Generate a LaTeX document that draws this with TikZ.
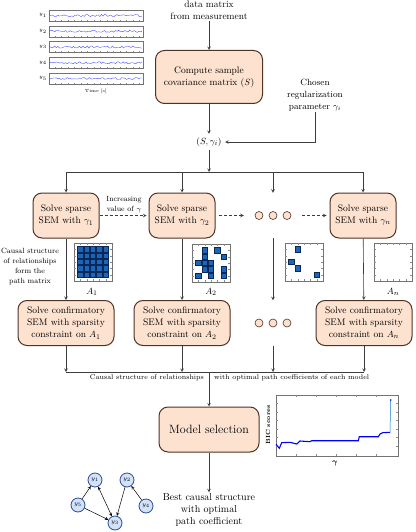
\documentclass[tikz,border=0pt]{standalone}
\usepackage{fontspec}
\usepackage{amsmath}
\usepackage{amssymb}
\usepackage{tikz}
\usetikzlibrary{calc}

\definecolor{boxfill}{RGB}{253,226,208}
\definecolor{boxdraw}{RGB}{80,50,38}
\definecolor{cellfill}{RGB}{28,102,186}
\definecolor{celldraw}{RGB}{12,38,86}
\definecolor{varfill}{RGB}{212,226,249}
\definecolor{vardraw}{RGB}{38,78,150}
\definecolor{linkgray}{RGB}{60,60,60}

\tikzset{
  proc/.style={draw=boxdraw, fill=boxfill, line width=1pt, rounded corners=9pt, align=center, inner sep=2pt},
  sparse/.style={minimum width=66pt, minimum height=45pt},
  confirm/.style={minimum width=96pt, minimum height=45pt},
  dotrow/.style={minimum width=52pt, minimum height=45pt},
  note/.style={align=center, inner sep=1pt},
  smallnote/.style={align=center, inner sep=1pt, font=\fontsize{7.5}{10}\selectfont},
  tinynote/.style={inner sep=1pt, font=\fontsize{7}{8}\selectfont},
  flow/.style={->, draw=linkgray, line width=0.6pt},
  link/.style={draw=linkgray, line width=0.6pt},
  dot/.style={draw=boxdraw, fill=boxfill, line width=0.6pt},
  cell/.style={draw=celldraw, fill=cellfill, line width=0.4pt},
  axisframe/.style={draw=black!55, line width=0.3pt},
  axistick/.style={draw=black!45, line width=0.25pt},
  var/.style={circle, draw=vardraw, fill=varfill, line width=0.8pt, minimum size=14pt, inner sep=0pt, font=\fontsize{6.5}{7}\selectfont},
  matrixgrid/.style={x=6.33pt, y=-6.33pt}
}

% frame of a 5 x 5 path matrix plot
\newcommand{\pathframe}{%
  \draw[axisframe] (0,0) rectangle (6,6);
  \foreach \k in {1,...,5}
    \draw[axistick] (\k,0) -- (\k,0.25) (\k,6) -- (\k,5.75) (0,\k) -- (0.25,\k) (6,\k) -- (5.75,\k);}
\newcommand{\pathcell}[2]{\draw[cell] (#1-0.42,#2-0.42) rectangle (#1+0.42,#2+0.42)}

\begin{document}
\begin{tikzpicture}[x=1pt, y=-1pt, >=stealth, font=\fontsize{9.5}{12}\selectfont]
  \useasboundingbox (0,0) rectangle (415,532);

  % Measured signals
  \pgfmathsetseed{7}
  \foreach \i in {1,...,5} {
    \pgfmathsetmacro{\ytop}{10+(\i-1)*15.75}
    \draw[axisframe] (49,\ytop) rectangle (143,\ytop+11);
    \foreach \t in {55,61.5,...,140} \draw[axistick] (\t,\ytop+11) -- (\t,\ytop+10);
    \draw[blue!75, line width=0.35pt] plot[domain=50:142, samples=60] (\x,{\ytop+5.5+1.1*rand});
    \node[font=\fontsize{4.5}{5}\selectfont] (sig\i) at (43,\ytop+5.5) {$y_{\i}$};
  }
  \node[font=\fontsize{4.5}{5}\selectfont] (time) at (96,91) {Time [s]};

  % Covariance and chosen parameter
  \node[note] (data) at (209,10) {data matrix\\from measurement};
  \node[proc, minimum width=107pt, minimum height=53pt] (cov) at (209,77) {Compute sample\\covariance matrix ($S$)};
  \node (sg) at (209,142) {$(S,\gamma_i)$};
  \node[note, font=\fontsize{9}{12}\selectfont] (chosen) at (315,95) {Chosen\\regularization\\parameter $\gamma_i$};
  \draw[flow] (data) -- (cov);
  \draw[flow] (cov) -- (sg);
  \draw[flow] (chosen) |- (sg);

  % Sparse SEM for each gamma
  \node[proc, sparse] (s1) at (66,215.5) {Solve sparse\\SEM with $\gamma_1$};
  \node[proc, sparse] (s2) at (182,215.5) {Solve sparse\\SEM with $\gamma_2$};
  \node[dotrow] (dotsA) at (273,215.5) {};
  \node[proc, sparse] (sn) at (363,215.5) {Solve sparse\\SEM with $\gamma_n$};

  \coordinate (split) at (209,172);
  \draw[flow] (sg) -- (split);
  \draw[link] (split -| s1) -- (split -| sn);
  \foreach \n in {s1,s2,dotsA,sn} \draw[flow] (split -| \n) -- (\n);

  \draw[flow, densely dashed, shorten >=2pt] (s1) -- (s2) node[midway, above=1pt, smallnote] (incr) {Increasing\\value of $\gamma$};
  \draw[flow, densely dashed, shorten <=3pt, shorten >=3pt] (s2) -- (dotsA);
  \draw[flow, densely dashed, shorten <=3pt, shorten >=3pt] (dotsA) -- (sn);

  % Confirmatory SEM
  \node[proc, confirm] (c1) at (66,323) {Solve confirmatory\\SEM with sparsity\\constraint on $A_1$};
  \node[proc, confirm] (c2) at (182,323) {Solve confirmatory\\SEM with sparsity\\constraint on $A_2$};
  \node[dotrow] (dotsB) at (273,323) {};
  \node[proc, confirm] (cn) at (364,323) {Solve confirmatory\\SEM with sparsity\\constraint on $A_n$};
  \foreach \n in {dotsA,dotsB}
    \foreach \dx in {-14,0,14}
      \draw[dot] ($(\n)+(\dx,0)$) circle (4pt);

  \draw[flow] (s1) -- (c1);
  \draw[flow] (s2) -- (c2);
  \draw[flow] (dotsA) -- (dotsB);
  \draw[flow] (sn) -- (cn);
  \node[smallnote] (structnote) at (30,267) {Causal structure\\of relationships\\form the\\path matrix};

  % Path matrices
  \begin{scope}[shift={(74,243)}, matrixgrid]
    \pathframe
    \foreach \c in {1,...,5} \foreach \r in {1,...,5} {\pathcell{\c}{\r};}
  \end{scope}
  \begin{scope}[shift={(192,244)}, matrixgrid]
    \pathframe
    \foreach \c/\r in {2/1,4/1,2/2,5/2,1/3,2/3,3/3,2/4,3/4,5/4,1/5,3/5,5/5} {\pathcell{\c}{\r};}
  \end{scope}
  \begin{scope}[shift={(285,243)}, matrixgrid]
    \pathframe
    \foreach \c/\r in {2/1,1/3,2/4,5/5} {\pathcell{\c}{\r};}
  \end{scope}
  \begin{scope}[shift={(374,243)}, matrixgrid]
    \pathframe
  \end{scope}
  \node (a1) at (92,292) {$A_1$};
  \node (a2) at (211,292) {$A_2$};
  \node (an) at (393,292) {$A_n$};

  % Collect the models
  \coordinate (merge) at (209,372);
  \foreach \n in {c1,c2,dotsB,cn} \draw[flow] (\n) -- (\n |- merge);
  \draw[link] (c1 |- merge) -- (cn |- merge);
  \node[tinynote, anchor=east] (causal) at (205,378) {Causal structure of relationships};
  \node[tinynote, anchor=west] (optimal) at (213,378) {with optimal path coefficients of each model};

  \node[proc, minimum width=100pt, minimum height=45pt, font=\fontsize{12}{14}\selectfont] (model) at (209,429.5) {Model selection};
  \node[note, font=\fontsize{10}{12}\selectfont] (best) at (209,510) {Best causal structure\\with optimal\\path coefficient};
  \draw[flow] (merge) -- (model);
  \draw[flow] (model) -- (best);

  % BIC scores
  \draw[axisframe] (276,395) rectangle (398,456);
  \foreach \t in {403.5,412,...,448} \draw[axistick] (276,\t) -- (278,\t) (398,\t) -- (396,\t);
  \foreach \t in {296,316,...,380} \draw[axistick] (\t,456) -- (\t,454) (\t,395) -- (\t,397);
  \draw[blue, line width=1.1pt] plot coordinates {(276,444.3) (279.3,448.3) (281.7,442.7) (290,442.3) (296.7,444) (300,441) (310,441.7) (311.7,440.7) (358.3,440.7) (359.3,436.7) (378.3,436.7) (380,434) (382.7,432.7) (390,432.3)};
  \draw[cyan!60!blue, line width=0.5pt] (390,432.3) -- (390.7,400);
  \fill[blue] (390.7,400) circle (0.9pt);
  \node[rotate=90, font=\bfseries\fontsize{6}{6}\selectfont] (biclab) at (268,425) {BIC scores};
  \node[font=\fontsize{8}{8}\selectfont] (gamlab) at (335,463) {$\boldsymbol{\gamma}$};

  % Best causal graph
  \node[var] (y1) at (95,480) {$y_1$};
  \node[var] (y2) at (127,480) {$y_2$};
  \node[var] (y5) at (78,505) {$y_5$};
  \node[var] (y4) at (146,506) {$y_4$};
  \node[var] (y3) at (115,523) {$y_3$};
  \draw[->, line width=0.5pt] (y5) -- (y1);
  \draw[<->, line width=0.5pt] (y1) -- (y3);
  \draw[->, line width=0.5pt] (y2) -- (y3);
  \draw[->, line width=0.5pt] (y4) -- (y2);
  \draw[->, line width=0.5pt] (y5) -- (y3);
\end{tikzpicture}
\end{document}
